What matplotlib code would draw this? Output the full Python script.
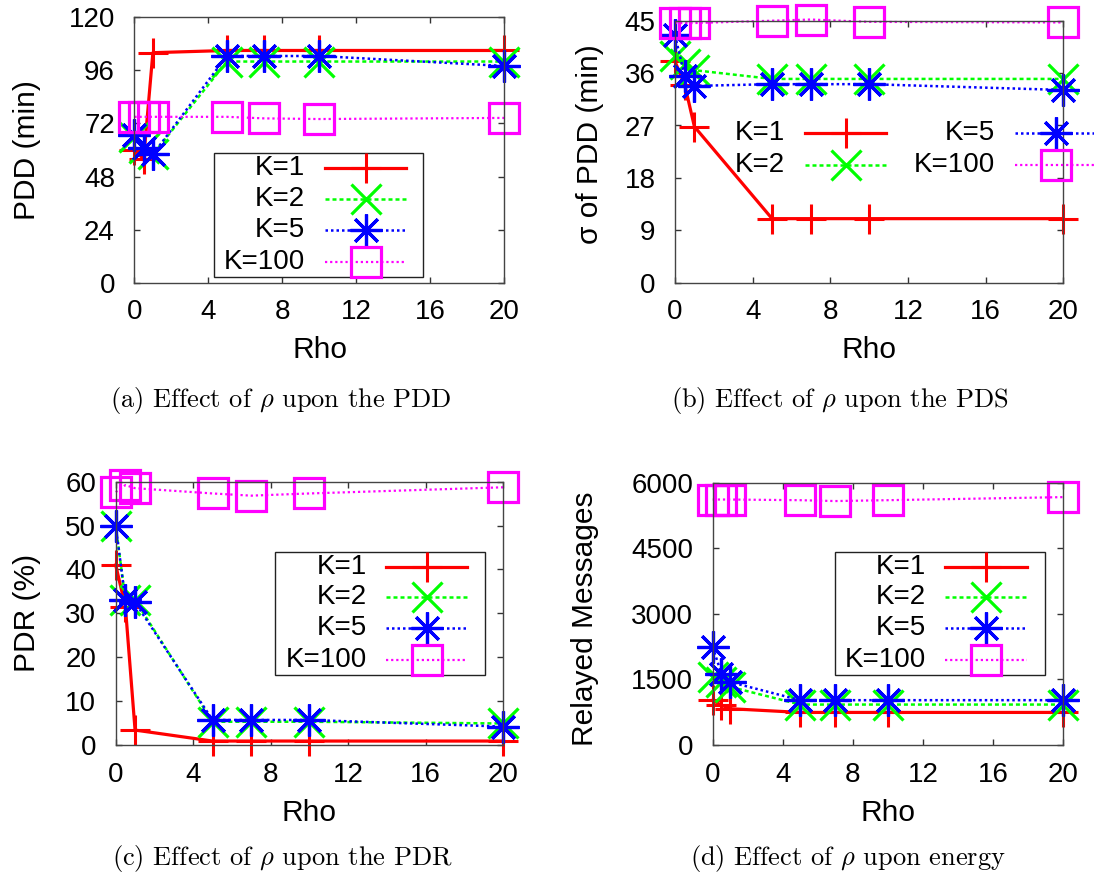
import matplotlib
matplotlib.use("Agg")
import matplotlib.pyplot as plt
from matplotlib.lines import Line2D
from matplotlib.patches import Rectangle

W, H = 1094, 880
plt.rcParams["font.family"] = ["Liberation Sans", "DejaVu Sans"]
plt.rcParams["mathtext.fontset"] = "cm"

# ---- data -------------------------------------------------------------
rho = [0, 0.5, 1, 5, 7, 10, 20]
series_labels = ["K=1", "K=2", "K=5", "K=100"]

pdd_k1 = [60, 56, 104, 105, 105, 105, 105]
pdd_k2 = [66, 61, 58, 100, 100, 100, 100]
pdd_k5 = [67, 61, 58, 102.5, 102.5, 102.5, 98]
pdd_k100 = [75, 75, 75, 75, 74.3, 74, 74.5]

pds_k1 = [38, 34, 26.8, 11, 11, 11, 11]
pds_k2 = [39, 37.5, 36.5, 35, 35, 35, 35]
pds_k5 = [42.5, 35.5, 33.8, 34.1, 34.1, 34.1, 33.1]
pds_k100 = [44.6, 44.6, 44.6, 45, 45.2, 44.8, 44.7]

pdr_k1 = [41, 31.5, 3.4, 0.9, 0.9, 0.9, 0.9]
pdr_k2 = [50, 33, 33, 5.3, 5.3, 5.3, 4.9]
pdr_k5 = [50, 33, 32.5, 5.7, 5.7, 5.7, 4.2]
pdr_k100 = [57.6, 59.2, 58.5, 57.3, 56.8, 57.3, 58.7]

msg_k1 = [1020, 910, 830, 745, 745, 745, 745]
msg_k2 = [1555, 1440, 1330, 925, 925, 925, 925]
msg_k5 = [2240, 1630, 1440, 1025, 1025, 1025, 1025]
msg_k100 = [5615, 5615, 5615, 5600, 5580, 5600, 5670]

x_ticks = [0, 4, 8, 12, 16, 20]

# ---- styles -----------------------------------------------------------
styles = [
    dict(color="#ff0000", ls="-", lw=2.3, marker="+", ms=22, mew=2.2),
    dict(color="#00ff00", ls=(0, (1.6, 1.2)), lw=1.8, marker="x", ms=21, mew=2.3),
    dict(color="#0000ff", ls=(0, (1.0, 1.2)), lw=1.8, marker=(8, 2, 0), ms=23, mew=2.3),
    dict(color="#ff00ff", ls=(0, (1.0, 1.3)), lw=1.6, marker="s", ms=21, mew=2.3,
         mfc="none"),
]

fig = plt.figure(figsize=(W / 100, H / 100), dpi=100)


def fx(x):
    return x / W


def fy(y):
    return 1 - y / H


def make_axes(l, t, r, b):
    return fig.add_axes([fx(l), fy(b), (r - l) / W, (b - t) / H])


def style_axes(ax, ymax, ystep):
    ax.set_xlim(0, 20)
    ax.set_ylim(0, ymax)
    ax.set_xticks(x_ticks)
    ax.set_yticks([ystep * i for i in range(int(round(ymax / ystep)) + 1)])
    ax.tick_params(direction="in", length=4.5, width=1, top=True, right=True,
                   labelsize=20, color="#333333")
    ax.tick_params(axis="x", pad=12)
    ax.tick_params(axis="y", pad=14)
    for s in ax.spines.values():
        s.set_color("#444444")
        s.set_linewidth(1.0)


def plot_series(ax, ys):
    for y, st in zip(ys, styles):
        ax.plot(rho, y, color=st["color"], linestyle=st["ls"], linewidth=st["lw"],
                marker=st["marker"], markersize=st["ms"], markeredgewidth=st["mew"],
                markerfacecolor=st.get("mfc", st["color"]), clip_on=False)


def key_entry(i, y, text_right, x0, x1):
    st = styles[i]
    fig.text(fx(text_right), fy(y), series_labels[i], ha="right", va="center",
             fontsize=20)
    fig.add_artist(Line2D([fx(x0), fx(x1)], [fy(y), fy(y)], transform=fig.transFigure,
                          color=st["color"], linestyle=st["ls"], linewidth=st["lw"]))
    xm = (x0 + x1) / 2
    fig.add_artist(Line2D([fx(xm)], [fy(y)], transform=fig.transFigure,
                          color=st["color"], linestyle="none", marker=st["marker"],
                          markersize=st["ms"], markeredgewidth=st["mew"],
                          markerfacecolor=st.get("mfc", st["color"])))


def key_box(l, t, r, b):
    fig.add_artist(Rectangle((fx(l), fy(b)), (r - l) / W, (b - t) / H,
                             transform=fig.transFigure, fill=False,
                             edgecolor="#222222", linewidth=1.0))


def label(x, y, s, rot=0, size=21.5):
    fig.text(fx(x), fy(y), s, ha="center", va="center", rotation=rot, fontsize=size)


def caption(x, y, s):
    fig.text(fx(x), fy(y), s, ha="center", va="center", fontsize=19,
             family="cmr10")


# ---- (a) PDD ----------------------------------------------------------
ax_a = make_axes(134.4, 17.3, 504, 282.7)
style_axes(ax_a, 120, 24)
plot_series(ax_a, [pdd_k1, pdd_k2, pdd_k5, pdd_k100])
label(320, 350, "Rho")
label(27, 150, "PDD (min)", rot=90)
key_box(214, 153, 423, 277)
for i, yy in enumerate([168, 199, 230, 262]):
    key_entry(i, yy, 305, 325, 406)
caption(281, 400, r"(a) Effect of $\rho$ upon the PDD")

# ---- (b) PDS ----------------------------------------------------------
ax_b = make_axes(675, 20.7, 1063.3, 282.7)
style_axes(ax_b, 45, 9)
plot_series(ax_b, [pds_k1, pds_k2, pds_k5, pds_k100])
label(869, 350, "Rho")
label(590, 144, "σ of PDD (min)", rot=90)
key_entry(0, 133, 785, 805, 886)
key_entry(1, 165, 785, 805, 886)
key_entry(2, 133, 995, 1015, 1096)
key_entry(3, 165, 995, 1015, 1096)
caption(840, 400, r"(b) Effect of $\rho$ upon the PDS")

# ---- (c) PDR ----------------------------------------------------------
ax_c = make_axes(115.7, 481.6, 503, 745)
style_axes(ax_c, 60, 10)
plot_series(ax_c, [pdr_k1, pdr_k2, pdr_k5, pdr_k100])
label(309, 813, "Rho")
label(27, 613, "PDR (%)", rot=90)
key_box(275, 551.7, 485, 675)
for i, yy in enumerate([566.7, 597.3, 628.3, 660]):
    key_entry(i, yy, 366.7, 385.7, 467.3)
caption(282, 858, r"(c) Effect of $\rho$ upon the PDR")

# ---- (d) energy -------------------------------------------------------
ax_d = make_axes(712.7, 482.7, 1063, 745)
style_axes(ax_d, 6000, 1500)
plot_series(ax_d, [msg_k1, msg_k2, msg_k5, msg_k100])
label(888, 813, "Rho")
label(585, 619, "Relayed Messages", rot=90)
key_box(835, 551.7, 1045, 675)
for i, yy in enumerate([566.7, 597.3, 628.3, 660]):
    key_entry(i, yy, 926, 945, 1027)
caption(848, 858, r"(d) Effect of $\rho$ upon energy")

fig.savefig("out.png", dpi=100)
